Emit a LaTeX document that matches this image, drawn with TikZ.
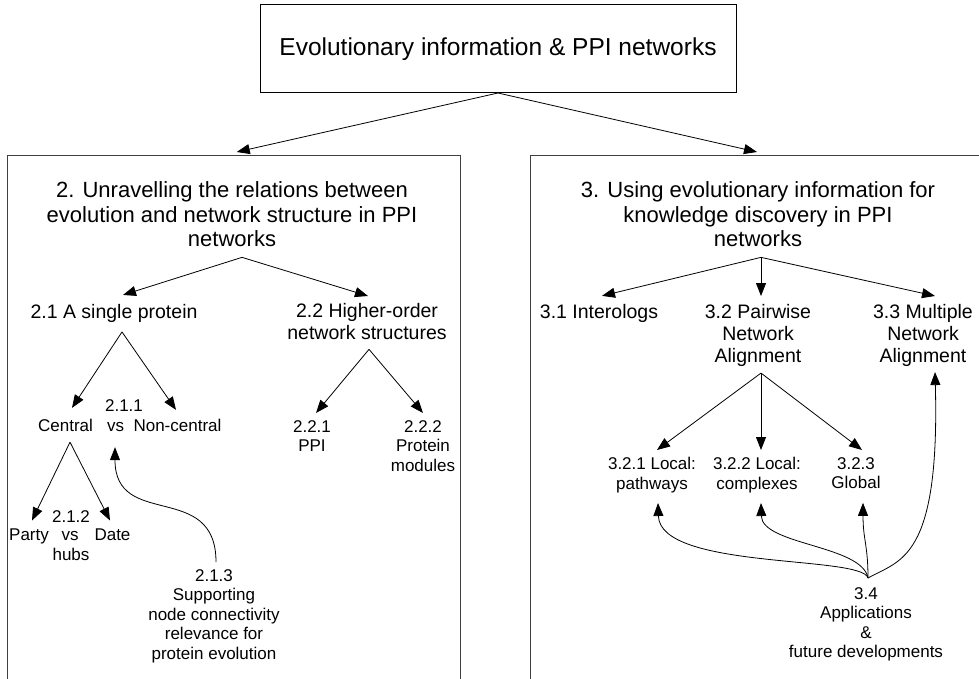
\documentclass[tikz,border=0pt]{standalone}
\usepackage{fontspec}
\setmainfont{Liberation Sans}
\usetikzlibrary{arrows.meta,calc}
\begin{document}
\begin{tikzpicture}[x=1pt,y=-1pt,
  txt/.style={inner sep=0pt, outer sep=0pt, align=center, anchor=north, text=black},
  ttl/.style={font=\fontsize{24.5}{28}\selectfont},
  hd/.style={txt, font=\fontsize{22}{24.5}\selectfont},
  md/.style={txt, font=\fontsize{19.5}{22}\selectfont},
  sm/.style={txt, font=\fontsize{17}{19.5}\selectfont},
  wd/.style={sm, anchor=base},
  arr/.style={-{Triangle[length=13pt,width=10pt]}, line width=0.8pt, black},
  panel/.style={draw=black!75, line width=1pt, inner sep=0pt, outer sep=0pt, minimum height=544.5pt}
]
\useasboundingbox (0,0) rectangle (979,679);

% title and panels
\node[draw=black, line width=1pt, minimum width=476pt, minimum height=88pt, inner sep=0pt, outer sep=0pt, ttl] (title) at (498,49) {Evolutionary information \& PPI networks};
\node[panel, minimum width=453.5pt] (left) at (233.75,427.75) {};
\node[panel, minimum width=454.5pt] (right) at (757.75,427.75) {};

% left panel texts
\node[hd] (h2) at (232,181.9) {2. Unravelling the relations between\\evolution and network structure in PPI\\networks};
\node[md, anchor=base] (n21) at (114,318.1) {2.1 A single protein};
\node[md] (n22) at (367,303) {2.2 Higher-order\\network structures};
\node[wd] (t211) at (124,411.4) {2.1.1};
\node[wd] (central) at (65.5,431.4) {Central};
\node[wd] (vs1) at (115.5,431.4) {vs};
\node[wd] (noncentral) at (177.5,431.4) {Non-central};
\node[wd] (t212) at (71,522.4) {2.1.2};
\node[wd] (party) at (29,540.4) {Party};
\node[wd] (vs2) at (70,540.4) {vs};
\node[wd] (date) at (112.5,540.4) {Date};
\node[wd] (hubs) at (71,560.4) {hubs};
\node[sm] (n213) at (214,569.2) {2.1.3\\Supporting\\node connectivity\\relevance for\\protein evolution};
\node[sm] (n221) at (312,420.2) {2.2.1\\PPI};
\node[sm] (n222) at (423,420.2) {2.2.2\\Protein\\modules};

% right panel texts
\node[hd] (h3) at (758,181.9) {3. Using evolutionary information for\\knowledge discovery in PPI\\networks};
\node[md, anchor=base] (n31) at (599,318.1) {3.1 Interologs};
\node[md] (n32) at (758,304) {3.2 Pairwise\\Network\\Alignment};
\node[md] (n33) at (923,304) {3.3 Multiple\\Network\\Alignment};
\node[sm] (n321) at (652,457.2) {3.2.1 Local:\\pathways};
\node[sm] (n322) at (757,457.2) {3.2.2 Local:\\complexes};
\node[sm] (n323) at (856,457.2) {3.2.3\\Global};
\node[sm] (n34) at (866,587.2) {3.4\\Applications\\\&\\future developments};

% connectors: top
\draw[arr] (title.south) -- ($(left.north)+(3,-3.5)$);
\draw[arr] (title.south) -- ($(right.north)+(-0.75,-3.5)$);

% left panel connectors
\draw[arr] ($(h2.south)+(10,10.3)$) -- ($(n21.north)+(9,-9)$);
\draw[arr] ($(h2.south)+(10,10.3)$) -- ($(n22.north)+(1,-7)$);
\draw[arr] ($(n21.south)+(8,9.8)$) -- ($(central.north)+(6.5,-11.2)$);
\draw[arr] ($(n21.south)+(8,9.8)$) -- ($(noncentral.north)+(-1.5,-9.2)$);
\draw[arr] ($(central.south)+(4.5,10.6)$) -- ($(party.north)+(3,-8.2)$);
\draw[arr] ($(central.south)+(4.5,10.6)$) -- ($(date.north)+(-2.5,-8.2)$);
\draw[arr] ($(n213.north)+(2,-7.2)$) .. controls +(0,-82) and +(0,83) .. ($(vs1.south)+(-0.5,15.6)$);
\draw[arr] ($(n22.south)+(2,10)$) -- ($(n221.north)+(4,-7.2)$);
\draw[arr] ($(n22.south)+(2,10)$) -- ($(n222.north)+(0,-7.2)$);

% right panel connectors
\draw[arr] ($(h3.south)+(3,10.3)$) -- ($(n31.north)+(3,-8.1)$);
\draw[arr] ($(h3.south)+(3,10.3)$) -- ($(n32.north)+(3,-8)$);
\draw[arr] ($(h3.south)+(3,10.3)$) -- ($(n33.north)+(12,-8)$);
\draw[arr] ($(n32.south)+(3,6.9)$) -- ($(n321.north)+(5,-7.2)$);
\draw[arr] ($(n32.south)+(3,6.9)$) -- ($(n322.north)+(4,-7.2)$);
\draw[arr] ($(n32.south)+(3,6.9)$) -- ($(n323.north)+(6,-7.2)$);
\draw[arr] ($(n34.north)+(2,-9.2)$) .. controls +(-6,-23) and +(2,67) .. ($(n321.south)+(6,10.5)$);
\draw[arr] ($(n34.north)+(2,-9.2)$) .. controls +(-6,-33) and +(1,42) .. ($(n322.south)+(4,10.5)$);
\draw[arr] ($(n34.north)+(2,-9.2)$) .. controls +(0,-33) and +(0,37) .. ($(n323.south)+(7,14.1)$);
\draw[arr] ($(n34.north)+(2,-9.2)$) .. controls +(32,-18) and +(5,188) .. ($(n33.south)+(12,5.9)$);
\end{tikzpicture}
\end{document}
